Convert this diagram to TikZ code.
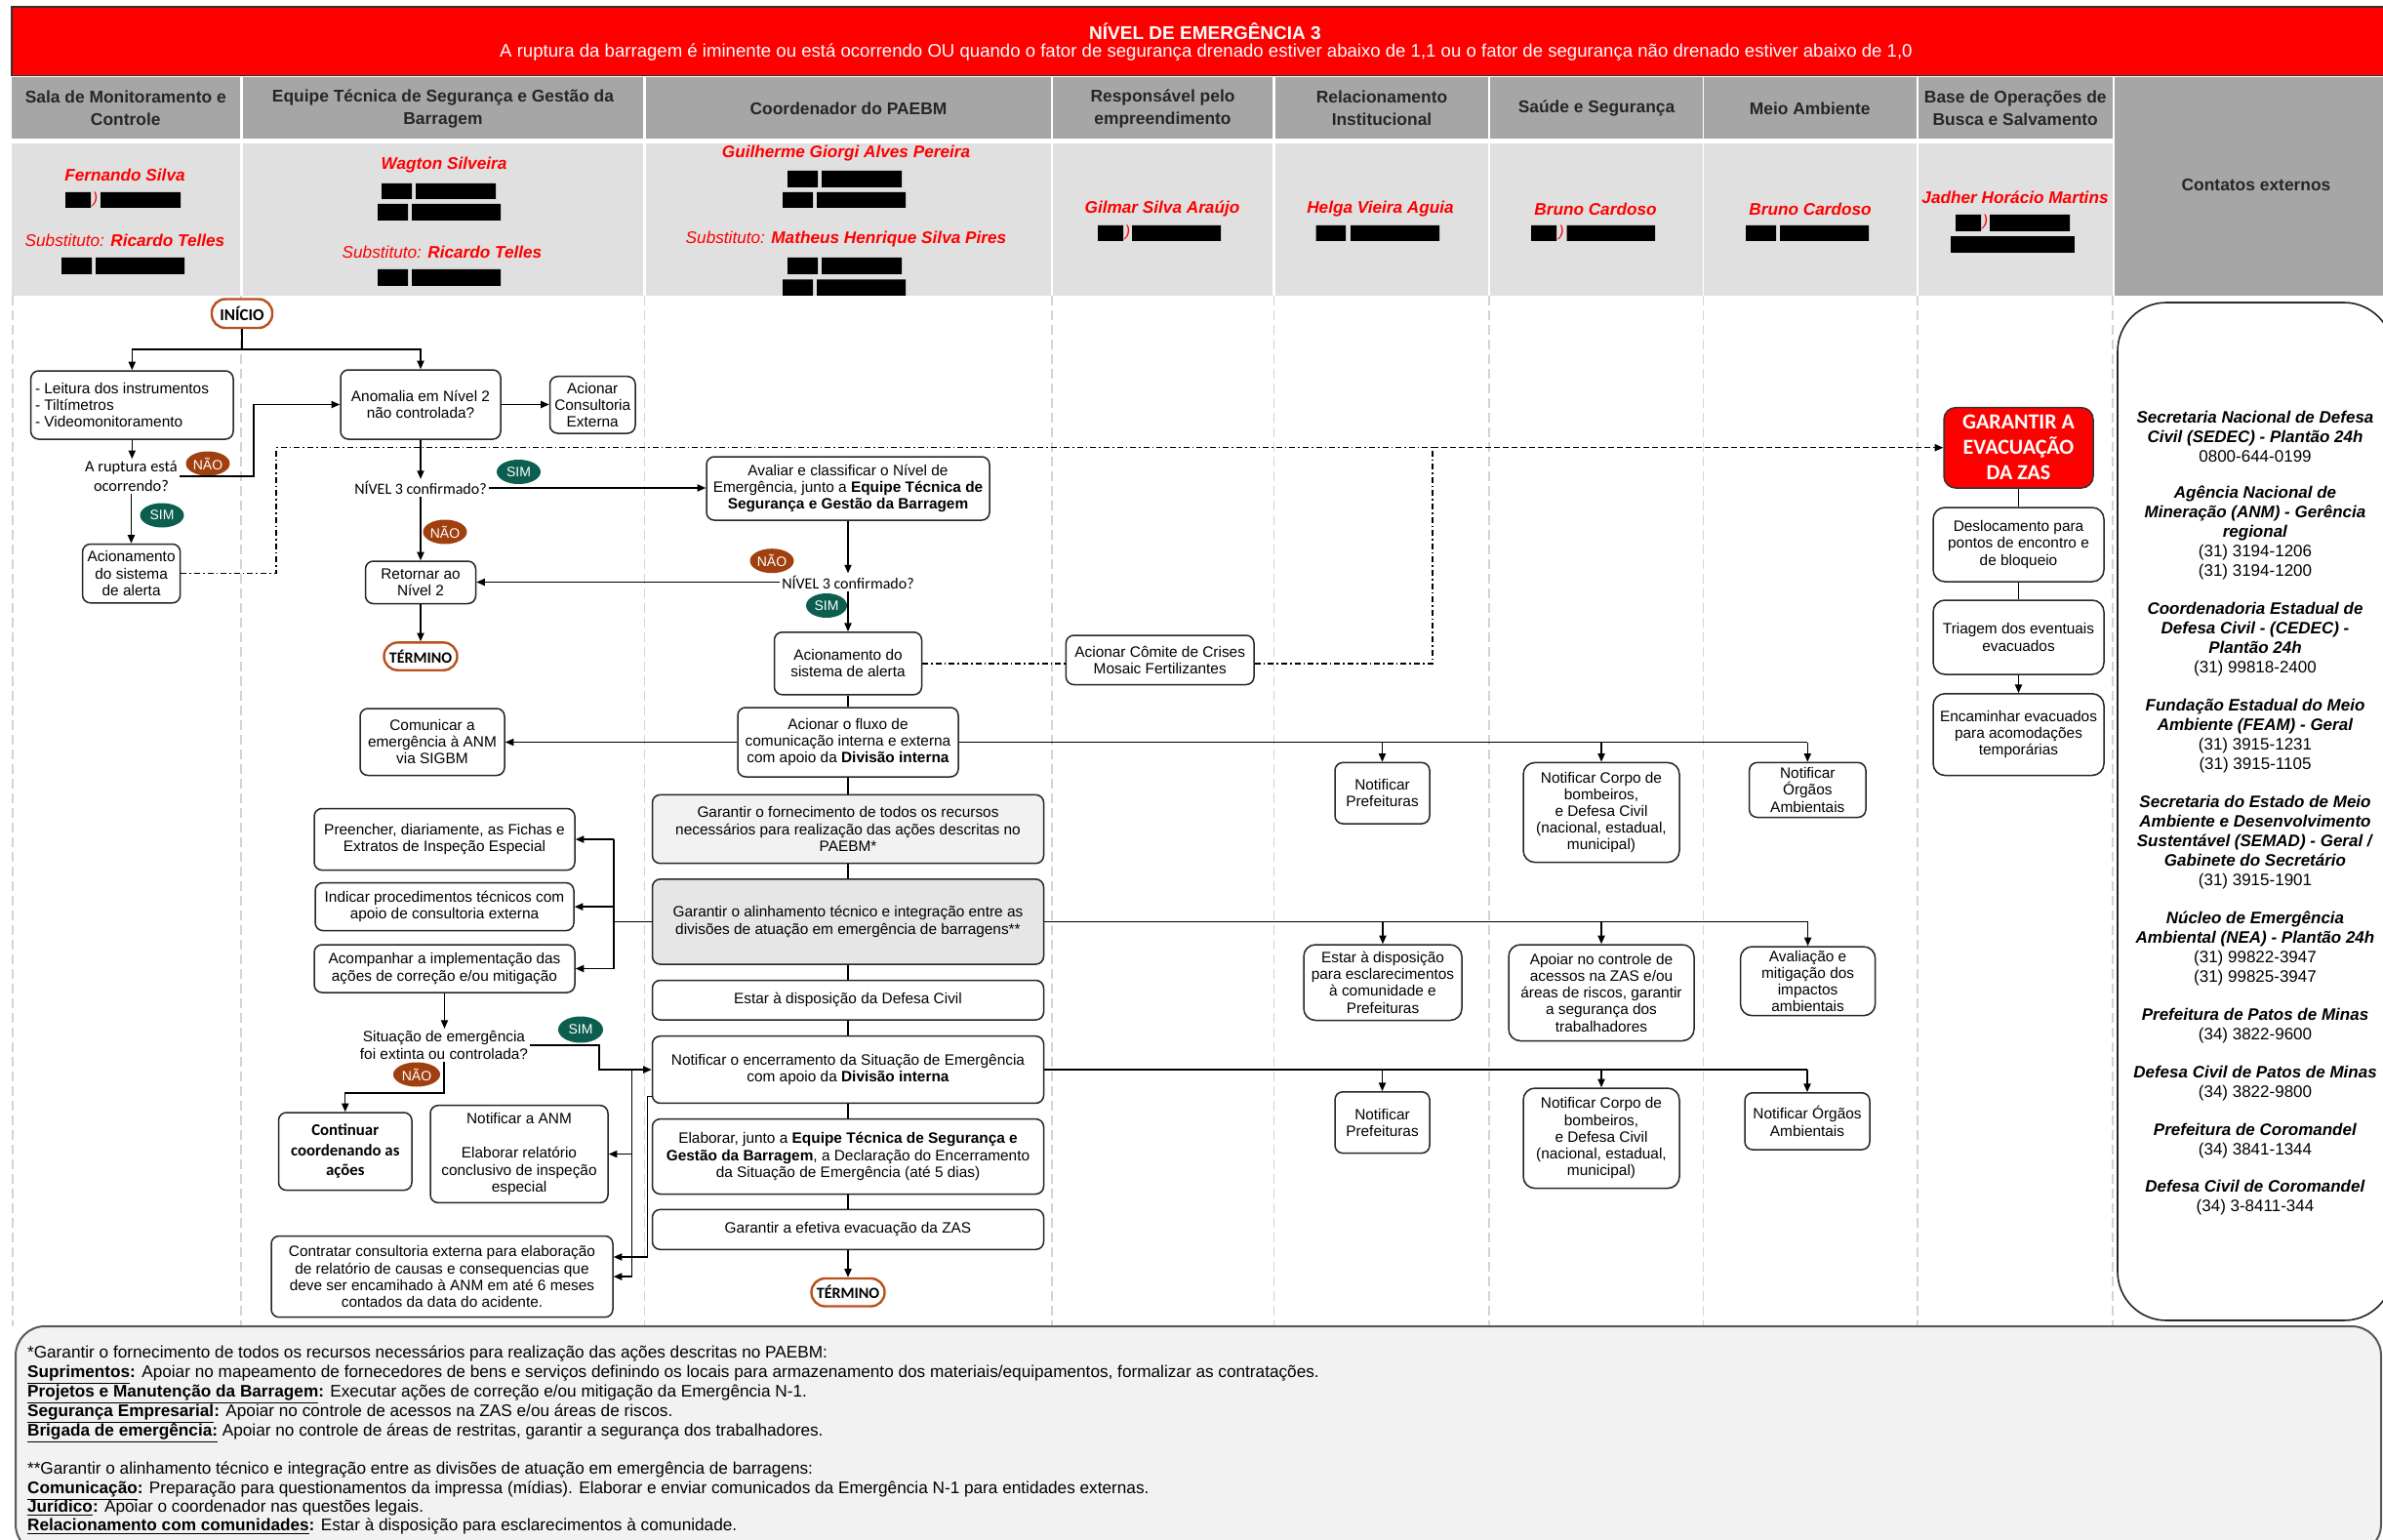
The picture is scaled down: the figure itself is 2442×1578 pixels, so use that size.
\documentclass[tikz,border=0pt]{standalone}
\usepackage{fontspec}
\setmainfont{Liberation Sans}
\newfontfamily\calfont{Carlito}
\usetikzlibrary{arrows.meta,shapes.geometric}
\definecolor{hdrdark}{HTML}{A6A6A6}
\definecolor{hdrlight}{HTML}{E0E0E0}
\definecolor{naoc}{RGB}{160,64,16}
\definecolor{simc}{RGB}{12,94,80}
\definecolor{capc}{RGB}{185,80,30}
\definecolor{lanec}{HTML}{D4D4D4}
\definecolor{redc}{RGB}{255,0,0}
\definecolor{footc}{HTML}{F2F2F2}
\definecolor{gf1}{HTML}{F2F2F2}
\definecolor{gf2}{HTML}{E6E6E6}
\newcommand\fbody{\fontsize{7.7pt}{8.6pt}\selectfont}
\newcommand\cn[1]{\textbf{\itshape #1}}
\newcommand\bx[6][]{\node[box,minimum width={(#4-#2)*0.5pt},minimum height={(#5-#3)*0.5pt},#1] (#6) at ({(#2+#4)/2},{(#3+#5)/2})}
\tikzset{
 box/.style={draw=black!85, line width=0.75pt, rounded corners=4pt, fill=white, align=center, font=\fbody, inner sep=1pt},
 ln/.style={line width=0.7pt, draw=black},
 arr/.style={ln, -{Triangle[length=4.3pt,width=3.6pt]}},
 badge/.style={ellipse, inner sep=0pt, text=white, font=\fontsize{7}{8}\selectfont, minimum width=22.5pt, minimum height=12.5pt},
 nao/.style={badge, fill=naoc},
 sim/.style={badge, fill=simc},
 capsule/.style={draw=capc, line width=1.2pt, rounded corners=7pt, fill=white, font=\calfont\bfseries\fontsize{8.5}{9}\selectfont, inner sep=0pt},
 dd/.style={line width=0.7pt, dash pattern=on 3pt off 1.5pt on 0.8pt off 1.5pt},
 dsh/.style={line width=0.7pt, dash pattern=on 3pt off 1.5pt},
 lane/.style={draw=lanec, line width=0.7pt, dash pattern=on 5pt off 2.5pt},
 hdr/.style={font=\bfseries\fontsize{8.7}{11.5}\selectfont, align=center, text=black!85, inner sep=0pt},
 hname/.style={text=redc, font=\bfseries\itshape\fontsize{8.6}{10}\selectfont, inner sep=0pt},
 paren/.style={text=redc, font=\itshape\fontsize{8}{9}\selectfont, inner sep=0pt},
 qtext/.style={font=\calfont\fontsize{8.2}{9.8}\selectfont, align=center, inner sep=1pt},
 foot/.style={anchor=base west, inner sep=0pt, font=\fontsize{8.6}{10}\selectfont},
 cnt/.style={font=\fontsize{8.5}{10}\selectfont, align=center, inner sep=0pt},
}
\begin{document}
\begin{tikzpicture}[x=0.5pt,y=-0.5pt]
\useasboundingbox (0,0) rectangle (2442,1578);
\fill[white] (0,0) rectangle (2442,1578);

% banner
\filldraw[fill=redc, draw=black!80, line width=0.6pt] (12,7) rectangle (2450,77.5);
\node[text=white, font=\bfseries\fontsize{9.5}{11}\selectfont, inner sep=0pt] (title) at (1235,32) {NÍVEL DE EMERGÊNCIA 3};
\node[text=white, font=\fontsize{9.3}{10}\selectfont, inner sep=0pt] (subtitle) at (1236,54) {A ruptura da barragem é iminente ou está ocorrendo OU quando o fator de segurança drenado estiver abaixo de 1,1 ou o fator de segurança não drenado estiver abaixo de 1,0};

% header cells
\foreach \a/\b in {12/245.5, 249/659, 662/1077, 1079/1304, 1307/1525, 1527/1745, 1746/1963.5, 1966/2164.5} {
  \fill[hdrdark] (\a,79) rectangle (\b,142);
  \fill[hdrlight] (\a,147) rectangle (\b,303);
}
\fill[hdrdark] (2166.5,79) rectangle (2450,303);
\node[hdr] (h1) at (128.75,111) {Sala de Monitoramento e\\Controle};
\node[hdr] (h2) at (454,111) {Equipe Técnica de Segurança e Gestão da\\Barragem};
\node[hdr] (h3) at (869.5,111) {Coordenador do PAEBM};
\node[hdr] (h4) at (1191.5,111) {Responsável pelo\\empreendimento};
\node[hdr] (h5) at (1416,111) {Relacionamento\\Institucional};
\node[hdr] (h6) at (1636,111) {Saúde e Segurança};
\node[hdr] (h7) at (1854.75,111) {Meio Ambiente};
\node[hdr] (h8) at (2065.25,111) {Base de Operações de\\Busca e Salvamento};
\node[hdr] (h9) at (2312,190) {Contatos externos};

% names
\node[hname] (n1) at (128,179) {Fernando Silva};
\node[hname] (n1s) at (128,246) {{\mdseries Substituto:} Ricardo Telles};
\node[hname] (n2) at (455,169) {Wagton Silveira};
\node[hname] (n2s) at (453,258) {{\mdseries Substituto:} Ricardo Telles};
\node[hname] (n3) at (867,157) {Guilherme Giorgi Alves Pereira};
\node[hname] (n3s) at (867,245.5) {{\mdseries Substituto:} Matheus Henrique Silva Pires};
\node[hname] (n4) at (1191,214) {Gilmar Silva Araújo};
\node[hname] (n5) at (1414.5,214) {Helga Vieira Aguia};
\node[hname] (n6) at (1635,214) {Bruno Cardoso};
\node[hname] (n7) at (1855,214) {Bruno Cardoso};
\node[hname] (n8) at (2065,202) {Jadher Horácio Martins};

% redactions
\fill[black] (67,197) rectangle (93,213) (103,197) rectangle (185,213);
\fill[black] (63,264) rectangle (94,281) (98,264) rectangle (189,281);
\fill[black] (391,188) rectangle (422,204) (426,188) rectangle (508,204);
\fill[black] (387,209) rectangle (418,226) (422,209) rectangle (513,226);
\fill[black] (387,276) rectangle (418,293) (422,276) rectangle (513,293);
\fill[black] (807,175) rectangle (838,192) (842,175) rectangle (924,192);
\fill[black] (802,197) rectangle (833,213) (837,197) rectangle (928,213);
\fill[black] (807,264) rectangle (838,281) (842,264) rectangle (924,281);
\fill[black] (802,286.5) rectangle (833,303) (837,286.5) rectangle (928,303);
\fill[black] (1125,231) rectangle (1151,247) (1160,231) rectangle (1251,247);
\fill[black] (1348.5,231) rectangle (1379,247) (1384,231) rectangle (1475,247);
\fill[black] (1569,231) rectangle (1595,247) (1605.5,231) rectangle (1696,247);
\fill[black] (1789,231) rectangle (1820,247) (1824,231) rectangle (1915,247);
\fill[black] (2004,220) rectangle (2030,237) (2039,220) rectangle (2121,237);
\fill[black] (1999,242) rectangle (2126,259);
\node[paren] (p1) at (97.5,204) {)};
\node[paren] (p4) at (1155.5,238) {)};
\node[paren] (p6) at (1600,238) {)};
\node[paren] (p8) at (2034.5,227) {)};

% lanes
\foreach \x in {13,247,660.5,1078,1305.5,1526,1745.5,1965,2165} \draw[lane] (\x,303) -- (\x,1359);

% footer box
\filldraw[fill=footc, draw=black!65, line width=1pt, rounded corners=15pt] (16,1359) rectangle (2440,1592);
% contacts box
\filldraw[fill=white, draw=black!85, line width=0.8pt, rounded corners=25pt] (2170,310) rectangle (2452,1353);

% ---- column 1 / 2 nodes
\bx[capsule]{217}{306.5}{279}{336}{inicio} {INÍCIO};
\bx{31.6}{380}{239}{450}{leit} {};
\node[font=\fbody, align=left, anchor=west, inner sep=0pt] (leitt) at (35.6,415) {- Leitura dos instrumentos\\- Tiltímetros\\- Videomonitoramento};
\node[qtext] (rupt) at (134.5,488) {A ruptura está\\ocorrendo?};
\node[nao] (nao1) at (213,475) {NÃO};
\node[sim] (sim1) at (166,528) {SIM};
\bx{84.6}{557.5}{184.7}{617.8}{acion1} {Acionamento\\do sistema\\de alerta};
\bx{349}{379}{513}{450}{anom} {Anomalia em Nível 2\\não controlada?};
\bx{563.5}{385.7}{651}{444}{consult} {Acionar\\Consultoria\\Externa};
\node[qtext, font=\calfont\fontsize{8}{9.6}\selectfont] (niv1) at (431,500) {NÍVEL 3 confirmado?};
\node[sim] (sim2) at (531.5,483.5) {SIM};
\node[nao] (nao2) at (456,545) {NÃO};
\bx{374.5}{575}{487.5}{618.5}{retornar} {Retornar ao\\Nível 2};
\bx[capsule, font=\calfont\bfseries\fontsize{8}{9}\selectfont]{393.5}{658.4}{468.5}{686.7}{term1} {TÉRMINO};
\bx{369}{726}{517}{794.5}{comunicar} {Comunicar a\\emergência à ANM\\via SIGBM};
\bx{322}{828.5}{589}{891.6}{preencher} {Preencher, diariamente, as Fichas e\\Extratos de Inspeção Especial};
\bx{323}{904.6}{588}{953.6}{indicar} {Indicar procedimentos técnicos com\\apoio de consultoria externa};
\bx{322}{968}{589}{1017}{acomp} {Acompanhar a implementação das\\ações de correção e/ou mitigação};
\node[font=\fontsize{7.7}{9}\selectfont, align=center, inner sep=1pt] (sit) at (455,1071) {Situação de emergência\\foi extinta ou controlada?};
\node[sim, minimum width=23pt, minimum height=13.5pt] (sim3) at (595,1055) {SIM};
\node[nao, minimum width=24pt] (nao3) at (427,1101) {NÃO};
\bx[font=\calfont\bfseries\fontsize{8.4}{10.3}\selectfont]{285.5}{1140}{422}{1219.6}{contin} {Continuar\\coordenando as\\ações};
\bx{441}{1132.7}{623}{1232.4}{notanm} {Notificar a ANM\\[9pt]Elaborar relatório\\conclusivo de inspeção\\especial};
\bx{278}{1266.5}{628}{1349.7}{contratar} {Contratar consultoria externa para elaboração\\de relatório de causas e consequencias que\\deve ser encamihado à ANM em até 6 meses\\contados da data do acidente.};

% ---- column 3 nodes
\bx{724}{468}{1014}{533}{avaliar} {Avaliar e classificar o Nível de\\Emergência, junto a \textbf{Equipe Técnica de}\\\textbf{Segurança e Gestão da Barragem}};
\node[nao] (nao4) at (791,574.7) {NÃO};
\node[qtext, font=\calfont\fontsize{8}{9.6}\selectfont] (niv2) at (869,596.5) {NÍVEL 3 confirmado?};
\node[sim, minimum width=21pt] (sim4) at (847,620.5) {SIM};
\bx{793.5}{647.8}{944.5}{711.8}{acion2} {Acionamento do\\sistema de alerta};
\bx{1092.4}{651}{1285}{701.5}{comite} {Acionar Cômite de Crises\\Mosaic Fertilizantes};
\bx{756}{725}{982}{796}{fluxo} {Acionar o fluxo de\\comunicação interna e externa\\com apoio da \textbf{Divisão interna}};
\bx[fill=gf1]{668.5}{814.4}{1069.5}{884.7}{gforn} {Garantir o fornecimento de todos os recursos\\necessários para realização das ações descritas no\\PAEBM*};
\bx[fill=gf2]{668.5}{900.9}{1069.5}{988}{galin} {Garantir o alinhamento técnico e integração entre as\\divisões de atuação em emergência de barragens**};
\bx{668.5}{1004.5}{1069.5}{1045}{estar} {Estar à disposição da Defesa Civil};
\bx{668.5}{1061.7}{1069.5}{1130.4}{notenc} {Notificar o encerramento da Situação de Emergência\\com apoio da \textbf{Divisão interna}};
\bx{668.5}{1146.6}{1069.5}{1223.5}{elab} {Elaborar, junto a \textbf{Equipe Técnica de Segurança e}\\\textbf{Gestão da Barragem}, a Declaração do Encerramento\\da Situação de Emergência (até 5 dias)};
\bx{668.5}{1239.4}{1069.5}{1280.3}{gefet} {Garantir a efetiva evacuação da ZAS};
\bx[capsule, font=\calfont\bfseries\fontsize{8}{9}\selectfont]{831.5}{1310}{906.5}{1338.5}{term2} {TÉRMINO};

% ---- right columns
\bx{1368}{781.4}{1465}{844}{pref1} {Notificar\\Prefeituras};
\bx[rounded corners=6pt]{1561}{781.4}{1721}{883.6}{corpo1} {Notificar Corpo de\\bombeiros,\\e Defesa Civil\\(nacional, estadual,\\municipal)};
\bx{1792.6}{781.4}{1912}{837.5}{org1} {Notificar\\Órgãos\\Ambientais};
\bx[rounded corners=6pt]{1336}{968}{1498}{1045.5}{esc} {Estar à disposição\\para esclarecimentos\\à comunidade e\\Prefeituras};
\bx[rounded corners=6pt]{1546}{968}{1736}{1066.5}{apoiar} {Apoiar no controle de\\acessos na ZAS e/ou\\áreas de riscos, garantir\\a segurança dos\\trabalhadores};
\bx[rounded corners=6pt]{1783.5}{970}{1921.7}{1040.7}{aval} {Avaliação e\\mitigação dos\\impactos\\ambientais};
\bx{1368}{1118.8}{1465}{1181.6}{pref2} {Notificar\\Prefeituras};
\bx[rounded corners=6pt]{1561}{1115}{1721}{1217.6}{corpo2} {Notificar Corpo de\\bombeiros,\\e Defesa Civil\\(nacional, estadual,\\municipal)};
\bx{1788}{1119.8}{1916}{1178}{org2} {Notificar Órgãos\\Ambientais};
\bx[fill=redc, draw=black!80, rounded corners=6pt, text=white, font=\calfont\bfseries\fontsize{11}{13}\selectfont]{1992}{417.7}{2145}{500}{garantir} {GARANTIR A\\EVACUAÇÃO\\DA ZAS};
\bx[rounded corners=6pt]{1981}{520}{2156}{596}{desloc} {Deslocamento para\\pontos de encontro e\\de bloqueio};
\bx[rounded corners=6pt]{1981}{615}{2156}{691}{triagem} {Triagem dos eventuais\\evacuados};
\bx[rounded corners=6pt]{1981}{710.8}{2156}{794.5}{encam} {Encaminhar evacuados\\para acomodações\\temporárias};

% ---- contacts
\node[cnt] (g1) at (2311,447.5) {\cn{Secretaria Nacional de Defesa}\\\cn{Civil (SEDEC) - Plantão 24h}\\0800-644-0199};
\node[cnt] (g2) at (2311,546) {\cn{Agência Nacional de}\\\cn{Mineração (ANM) - Gerência}\\\cn{regional}\\(31) 3194-1206\\(31) 3194-1200};
\node[cnt] (g3) at (2311,655) {\cn{Coordenadoria Estadual de}\\\cn{Defesa Civil - (CEDEC) -}\\\cn{Plantão 24h}\\(31) 99818-2400};
\node[cnt] (g4) at (2311,754) {\cn{Fundação Estadual do Meio}\\\cn{Ambiente (FEAM) - Geral}\\(31) 3915-1231\\(31) 3915-1105};
\node[cnt] (g5) at (2311,863) {\cn{Secretaria do Estado de Meio}\\\cn{Ambiente e Desenvolvimento}\\\cn{Sustentável (SEMAD) - Geral /}\\\cn{Gabinete do Secretário}\\(31) 3915-1901};
\node[cnt] (g6) at (2311,971.5) {\cn{Núcleo de Emergência}\\\cn{Ambiental (NEA) - Plantão 24h}\\(31) 99822-3947\\(31) 99825-3947};
\node[cnt] (g7) at (2311,1051) {\cn{Prefeitura de Patos de Minas}\\(34) 3822-9600};
\node[cnt] (g8) at (2311,1110) {\cn{Defesa Civil de Patos de Minas}\\(34) 3822-9800};
\node[cnt] (g9) at (2311,1169) {\cn{Prefeitura de Coromandel}\\(34) 3841-1344};
\node[cnt] (g10) at (2311,1227.5) {\cn{Defesa Civil de Coromandel}\\(34) 3-8411-344};

% ---- footer text
\node[foot] (f1) at (27.7,1391) {*Garantir o fornecimento de todos os recursos necessários para realização das ações descritas no PAEBM:};
\node[foot] (f2) at (27.7,1411) {\underline{\textbf{Suprimentos}}\textbf{:} Apoiar no mapeamento de fornecedores de bens e serviços definindo os locais para armazenamento dos materiais/equipamentos, formalizar as contratações.};
\node[foot] (f3) at (27.7,1431) {\underline{\textbf{Projetos e Manutenção da Barragem}}\textbf{:} Executar ações de correção e/ou mitigação da Emergência N-1.};
\node[foot] (f4) at (27.7,1451) {\underline{\textbf{Segurança Empresarial}}\textbf{:} Apoiar no controle de acessos na ZAS e/ou áreas de riscos.};
\node[foot] (f5) at (27.7,1471) {\underline{\textbf{Brigada de emergência:}} Apoiar no controle de áreas de restritas, garantir a segurança dos trabalhadores.};
\node[foot] (f6) at (27.7,1510.5) {**Garantir o alinhamento técnico e integração entre as divisões de atuação em emergência de barragens:};
\node[foot] (f7) at (27.7,1530) {\underline{\textbf{Comunicação}}\textbf{:} Preparação para questionamentos da impressa (mídias). Elaborar e enviar comunicados da Emergência N-1 para entidades externas.};
\node[foot] (f8) at (27.7,1549) {\underline{\textbf{Jurídico}}\textbf{:} Apoiar o coordenador nas questões legais.};
\node[foot] (f9) at (27.7,1568) {\underline{\textbf{Relacionamento com comunidades}}\textbf{:} Estar à disposição para esclarecimentos à comunidade.};

% ---- connectors
\coordinate (jA) at (248,358);
\draw[ln] (inicio.south) -- (jA);
\draw[arr] (jA) -| (leit.north);
\draw[arr] (jA) -| (anom.north);
\draw[arr] (leit.south) -- (leit.south |- rupt.north);
\draw[arr] (rupt.south) -- (rupt.south |- acion1.north);
\coordinate (kA) at (260,488);
\draw[arr] (rupt.east) -- (kA) |- (anom.west);
\draw[arr] (anom.east) -- (anom.east -| consult.west);
\draw[arr] (anom.south) -- (anom.south |- niv1.north);
\draw[arr] (niv1.east) -- (niv1.east -| avaliar.west);
\draw[arr] (retornar.north |- niv1.south) -- (retornar.north);
\draw[arr] (retornar.south) -- (retornar.south |- term1.north);
\draw[arr] (avaliar.south) -- (avaliar.south |- niv2.north);
\draw[arr] (niv2.west) -- (niv2.west -| retornar.east);
\draw[arr] (acion2.north |- niv2.south) -- (acion2.north);
\draw[ln] (acion2.south) -- (acion2.south |- fluxo.north);
\draw[arr] (fluxo.west) -- (fluxo.west -| comunicar.east);
\draw[ln] (fluxo.east) -- (fluxo.east -| org1.north);
\foreach \n in {pref1,corpo1,org1} \draw[arr] (fluxo.east -| \n.north) -- (\n.north);
\draw[ln] (fluxo.south) -- (fluxo.south |- gforn.north);
\draw[ln] (gforn.south) -- (gforn.south |- galin.north);
\draw[ln] (galin.south) -- (galin.south |- estar.north);
\draw[ln] (estar.south) -- (estar.south |- notenc.north);
\draw[ln] (notenc.south) -- (notenc.south |- elab.north);
\draw[ln] (elab.south) -- (elab.south |- gefet.north);
\draw[arr] (gefet.south) -- (gefet.south |- term2.north);
\coordinate (barx) at (629,944);
\draw[ln] (galin.west) -- (galin.west -| barx);
\draw[ln] (barx |- preencher.east) -- (barx |- acomp.east);
\foreach \n in {preencher,indicar,acomp} \draw[arr] (barx |- \n.east) -- (\n.east);
\draw[ln] (galin.east) -- (galin.east -| aval.north);
\foreach \n in {esc,apoiar,aval} \draw[arr] (galin.east -| \n.north) -- (\n.north);
\draw[ln] (notenc.east) -- (notenc.east -| org2.north);
\foreach \n in {pref2,corpo2,org2} \draw[arr] (notenc.east -| \n.north) -- (\n.north);
\draw[arr] (acomp.south) -- (acomp.south |- sit.north);
\coordinate (sA) at (614,1069);
\draw[arr] (sit.east) -- (sit.east -| sA) |- (notenc.west);
\coordinate (vb) at (647.6,1096);
\draw[ln] (vb) -- (vb |- contratar.east);
\draw[arr] (vb |- notanm.east) -- (notanm.east);
\draw[arr] (vb |- contratar.east) -- (contratar.east);
\coordinate (c1288) at (663.4,1288);
\draw[arr] ([yshift=3.8pt]notenc.south west) -| (c1288) -- (c1288 -| contratar.east);
\coordinate (n1120) at (0,1120);
\draw[arr] (sit.south) -- (sit.south |- n1120) -| (contin.north);
\coordinate (d1) at (283,458.7);
\coordinate (d2) at (1468,458.7);
\draw[dd] (acion1.east) -| (d1) -- (d2);
\draw[dd] (acion2.east) -- (acion2.east -| comite.west);
\draw[dd] (acion2.east -| comite.east) -| (d2);
\draw[dsh, -{Triangle[length=4.3pt,width=3.6pt]}] (d2) -- (d2 -| garantir.west);
\draw[ln] (garantir.south) -- (garantir.south |- desloc.north);
\draw[ln] (desloc.south) -- (desloc.south |- triagem.north);
\draw[arr] (triagem.south) -- (triagem.south |- encam.north);
\end{tikzpicture}
\end{document}
